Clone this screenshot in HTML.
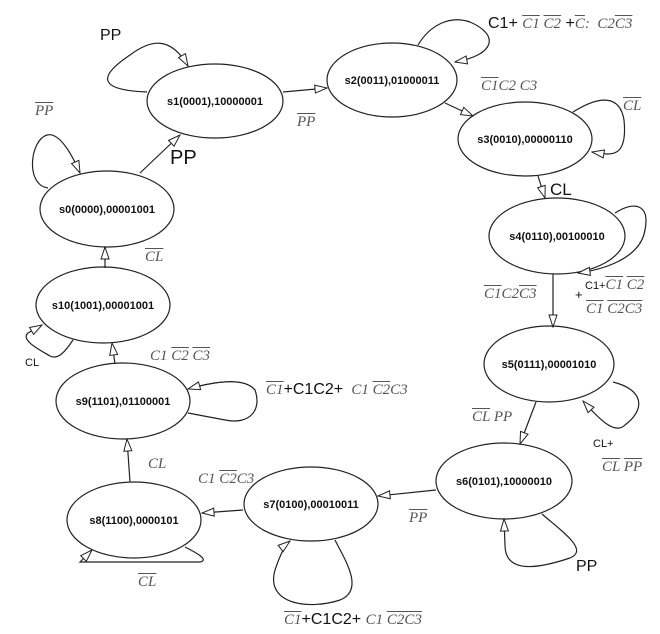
<!DOCTYPE html>
<html><head><style>
body{margin:0;background:#fff}
#w{position:relative;width:660px;height:634px;overflow:hidden;background:#fff}
svg{position:absolute;left:0;top:0}
.n{font-family:"Liberation Sans",sans-serif;font-weight:bold;font-size:11px;fill:#111}
.l{position:absolute;white-space:nowrap;line-height:1}
.s{font-family:"Liberation Sans",sans-serif;color:#111}
.i{font-family:"Liberation Serif",serif;font-style:italic;color:#555;font-size:15px}
.o{text-decoration:overline}
</style></head><body><div id="w">
<svg width="660" height="634" viewBox="0 0 660 634">
<defs><marker id="a" markerWidth="14" markerHeight="10" refX="13" refY="5" orient="auto" markerUnits="userSpaceOnUse"><path d="M1,1 L13,5 L1,9 Z" fill="#fff" stroke="#222" stroke-width="1"/></marker></defs>
<g fill="none" stroke="#222" stroke-width="1.2">
<ellipse cx="215" cy="101" rx="68" ry="37"/>
<ellipse cx="392" cy="80" rx="65" ry="37"/>
<ellipse cx="525" cy="139" rx="67" ry="37"/>
<ellipse cx="557" cy="236" rx="68" ry="38"/>
<ellipse cx="549" cy="364" rx="65" ry="38"/>
<ellipse cx="504" cy="481" rx="68" ry="38"/>
<ellipse cx="311" cy="504" rx="67" ry="37"/>
<ellipse cx="134" cy="520" rx="67" ry="38"/>
<ellipse cx="123" cy="401" rx="67" ry="38"/>
<ellipse cx="103" cy="305" rx="67" ry="38"/>
<ellipse cx="107" cy="209" rx="67" ry="38"/>
<g marker-end="url(#a)">
<path d="M140,173 L180,135"/>
<path d="M283,92 L327,88"/>
<path d="M445,103 L473,116"/>
<path d="M538,176 L545,198"/>
<path d="M553,274 L553,327"/>
<path d="M536,402 L520,444"/>
<path d="M436,490 L378,496"/>
<path d="M243,510 L202,513"/>
<path d="M130,482 L127,439"/>
<path d="M115,364 L112,343"/>
<path d="M105,268 L105,247"/>
<path d="M147,92 C95,90 100,75 130,55 C150,40 170,35 188,66"/>
<path d="M48,188 C25,185 30,140 47,135 C58,132 70,150 80,173"/>
<path d="M418,45 C430,25 450,15 470,22 C500,35 495,55 455,62"/>
<path d="M573,112 C600,95 620,95 624,120 C628,160 610,155 592,152"/>
<path d="M615,213 C635,200 650,205 645,230 C640,260 600,270 578,273"/>
<path d="M613,382 C645,390 645,410 625,425 C615,435 600,420 583,401"/>
<path d="M542,514 C560,530 590,550 570,558 C540,568 505,575 505,545 L504,519"/>
<path d="M335,540 C345,560 365,590 340,600 C310,610 265,605 275,570 C280,555 285,545 290,541"/>
<path d="M185,547 C195,552 210,560 200,562 L80,562 L92,550"/>
<path d="M255,390 C262,410 250,425 225,420 L188,413 M188,389 C220,380 245,378 255,390" marker-end="none"/>
<path d="M255,390 C245,378 220,380 188,389"/>
<path d="M73,340 C65,352 58,360 50,356 C40,350 20,340 28,333 L42,325"/>
</g></g>
<g class="n" text-anchor="middle">
<text x="215" y="105">s1(0001),10000001</text>
<text x="392" y="84">s2(0011),01000011</text>
<text x="525" y="143">s3(0010),00000110</text>
<text x="557" y="240">s4(0110),00100010</text>
<text x="549" y="368">s5(0111),00001010</text>
<text x="504" y="485">s6(0101),10000010</text>
<text x="311" y="508">s7(0100),00010011</text>
<text x="134" y="524">s8(1100),0000101</text>
<text x="123" y="405">s9(1101),01100001</text>
<text x="103" y="309">s10(1001),00001001</text>
<text x="107" y="213">s0(0000),00001001</text>
</g></svg>
<div class="l s" style="left:100px;top:28px;font-size:16px">PP</div>
<div class="l i" style="left:35px;top:104px"><span class="o">PP</span></div>
<div class="l s" style="left:170px;top:148px;font-size:20px">PP</div>
<div class="l i" style="left:297px;top:115px"><span class="o">PP</span></div>
<div class="l s" style="left:488px;top:16px;font-size:16px">C1+ <span class="i"><span class="o">C1</span> <span class="o">C2</span></span> +<span class="i"><span class="o">C</span>: &nbsp;C2<span class="o">C3</span></span></div>
<div class="l i" style="left:481px;top:79px"><span class="o">C1</span>C2 C3</div>
<div class="l i" style="left:623px;top:99px"><span class="o">CL</span></div>
<div class="l s" style="left:550px;top:181px;font-size:17px">CL</div>
<div class="l s" style="left:585px;top:278px;font-size:11px">C1+<span class="i"><span class="o">C1</span> <span class="o">C2</span></span></div>
<div class="l s" style="left:575px;top:288px;font-size:13px">+</div>
<div class="l i" style="left:586px;top:302px"><span class="o">C1</span> <span class="o">C2C3</span></div>
<div class="l i" style="left:484px;top:287px"><span class="o">C1</span>C2<span class="o">C3</span></div>
<div class="l i" style="left:472px;top:410px"><span class="o">CL</span> PP</div>
<div class="l s" style="left:593px;top:439px;font-size:11px">CL+</div>
<div class="l i" style="left:602px;top:460px"><span class="o">CL</span> <span class="o">PP</span></div>
<div class="l s" style="left:576px;top:559px;font-size:16px">PP</div>
<div class="l i" style="left:409px;top:511px"><span class="o">PP</span></div>
<div class="l i" style="left:198px;top:472px">C1 <span class="o">C2</span>C3</div>
<div class="l i" style="left:138px;top:575px"><span class="o">CL</span></div>
<div class="l s" style="left:284px;top:612px;font-size:16px"><span class="i o">C1</span>+C1C2+ <span class="i">C1 <span class="o">C2C3</span></span></div>
<div class="l i" style="left:148px;top:457px">CL</div>
<div class="l s" style="left:266px;top:382px;font-size:16px"><span class="i o">C1</span>+C1C2+ <span class="i">&nbsp;C1 <span class="o">C2</span>C3</span></div>
<div class="l i" style="left:150px;top:349px">C1 <span class="o">C2</span> <span class="o">C3</span></div>
<div class="l s" style="left:25px;top:358px;font-size:11px">CL</div>
<div class="l i" style="left:145px;top:250px"><span class="o">CL</span></div>
</div></body></html>
